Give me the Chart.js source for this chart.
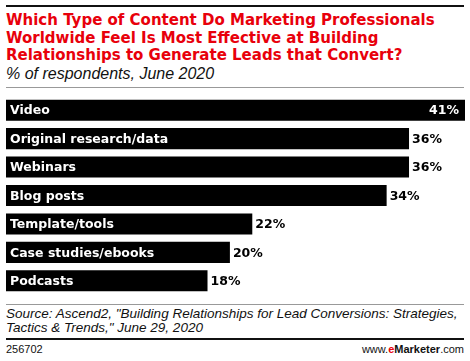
<!DOCTYPE html>
<html>
<head>
<meta charset="utf-8">
<script src="https://cdn.jsdelivr.net/npm/chart.js@4"></script>
<style>
  html, body { margin: 0; padding: 0; background: #fff; }
  body { width: 470px; height: 361px; position: relative; overflow: hidden; font-family: "Liberation Sans", Arial, sans-serif; }
  .rule { position: absolute; left: 6px; width: 458px; }
  #title { position: absolute; left: 6px; top: 12px; color: #e8000b; font-family: "DejaVu Sans", Verdana, sans-serif; font-weight: bold; font-size: 15px; line-height: 17.5px; }
  #subtitle { position: absolute; left: 6px; top: 65px; font-style: italic; font-size: 16px; color: #111; }
  #chartWrap { position: absolute; left: 0; top: 96px; width: 470px; height: 199px; }
  #source { position: absolute; left: 6px; top: 307px; font-style: italic; font-size: 13.5px; line-height: 14px; color: #111; }
  #footId { position: absolute; left: 6px; top: 343px; font-size: 11px; color: #111; }
  #footSite { position: absolute; right: 6px; top: 343px; font-size: 11px; color: #111; }
  #footSite b { font-weight: bold; }
  #footSite .e { color: #e8000b; }
</style>
</head>
<body>
<div class="rule" style="top:5px;height:2px;background:#111"></div>
<div id="title">Which Type of Content Do Marketing Professionals<br>Worldwide Feel Is Most Effective at Building<br>Relationships to Generate Leads that Convert?</div>
<div id="subtitle">% of respondents, June 2020</div>
<div class="rule" style="top:87px;height:1px;background:#999"></div>
<div id="chartWrap"><canvas id="barChart"></canvas></div>
<div class="rule" style="top:304px;height:1px;background:#999"></div>
<div id="source">Source: Ascend2, "Building Relationships for Lead Conversions: Strategies,<br>Tactics &amp; Trends," June 29, 2020</div>
<div class="rule" style="top:338px;height:2px;background:#111"></div>
<div id="footId">256702</div>
<div id="footSite">www.<b><span class="e">e</span>Marketer</b>.com</div>
<script>
// --- Data ---
const categories = [
  "Video",
  "Original research/data",
  "Webinars",
  "Blog posts",
  "Template/tools",
  "Case studies/ebooks",
  "Podcasts"
];
const values = [41, 36, 36, 34, 22, 20, 18];

const BAR_FONT = "bold 12.5px 'DejaVu Sans', Verdana, sans-serif";
const maxValue = Math.max(...values);

// draws category names inside bars and % values at bar ends
const barLabels = {
  id: "barLabels",
  afterDatasetsDraw(chart) {
    const ctx = chart.ctx;
    const meta = chart.getDatasetMeta(0);
    ctx.save();
    ctx.font = BAR_FONT;
    ctx.textBaseline = "middle";
    meta.data.forEach((bar, i) => {
      const y = bar.y + 1;
      ctx.fillStyle = "#fff";
      ctx.textAlign = "left";
      ctx.fillText(categories[i], bar.base + 4, y);
      const txt = values[i] + "%";
      if (values[i] === maxValue) {
        // longest bar: value sits inside, right aligned
        ctx.textAlign = "right";
        ctx.fillText(txt, bar.x - 6, y);
      } else {
        ctx.fillStyle = "#000";
        ctx.textAlign = "left";
        ctx.fillText(txt, bar.x + 3, y);
      }
    });
    ctx.restore();
  }
};

new Chart(document.getElementById("barChart"), {
  type: "bar",
  data: {
    labels: categories,
    datasets: [{
      data: values,
      backgroundColor: "#000",
      borderWidth: 0,
      barPercentage: 0.74,
      categoryPercentage: 1
    }]
  },
  options: {
    indexAxis: "y",
    responsive: true,
    maintainAspectRatio: false,
    animation: false,
    layout: { padding: { left: 6, right: 5, top: 0, bottom: 0 } },
    scales: {
      x: { display: false, min: 0, max: maxValue },
      y: { display: false }
    },
    plugins: {
      legend: { display: false },
      tooltip: { enabled: false }
    }
  },
  plugins: [barLabels]
});
</script>
</body>
</html>
